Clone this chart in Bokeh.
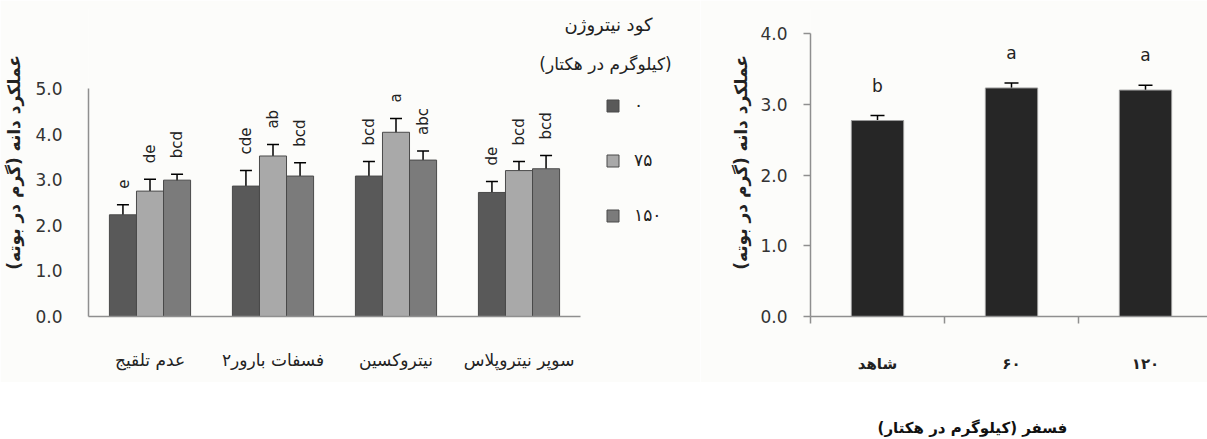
import numpy as np
from bokeh.plotting import figure
from bokeh.models import (ColumnDataSource, Range1d, Whisker, Legend, LegendItem,
                          Label, FixedTicker, TeeHead, NumeralTickFormatter)
from bokeh.layouts import row, column
from bokeh.core.properties import value
from bokeh.embed import file_html
from bokeh.resources import INLINE

# ---------------- data ----------------
inoculants = ["عدم تلقیج", "فسفات بارور۲", "نیتروکسین", "سوپر نیتروپلاس"]
n_levels = ["۰", "۷۵", "۱۵۰"]
n0 = [2.23, 2.86, 3.08, 2.72]
n75 = [2.75, 3.52, 4.04, 3.20]
n150 = [2.99, 3.08, 3.43, 3.24]
err_n0 = [0.22, 0.34, 0.32, 0.24]
err_n75 = [0.26, 0.25, 0.30, 0.20]
err_n150 = [0.13, 0.29, 0.20, 0.29]
let_n0 = ["e", "cde", "bcd", "de"]
let_n75 = ["de", "ab", "a", "bcd"]
let_n150 = ["bcd", "bcd", "abc", "bcd"]

phos_levels = ["شاهد", "۶۰", "۱۲۰"]
phos_yield = [2.77, 3.23, 3.20]
phos_err = [0.07, 0.07, 0.07]
phos_let = ["b", "a", "a"]

y_ticks_left = [0, 1, 2, 3, 4, 5]
y_ticks_right = [0, 1, 2, 3, 4]

legend_title_1 = "کود نیتروژن"
legend_title_2 = "(کیلوگرم در هکتار)"
y_title = "عملکرد دانه (گرم در بوته)"
x_title_right = "فسفر (کیلوگرم در هکتار)"

FONT = "DejaVu Sans"
BG = "#fcfcfa"
AX = "#8f8f8f"
TOP, BOTTOM, H = 8, 66, 382
FRAME_H = H - TOP - BOTTOM

# ---------------- left chart ----------------
cat_left = 123.0
left_px_per_unit = (316 - 88) / 5.0
p1 = figure(width=700, height=H, output_backend="svg", toolbar_location=None,
            x_range=Range1d(0.5, 0.5 + (700 - 88) / cat_left),
            y_range=Range1d(0, FRAME_H / left_px_per_unit),
            min_border_left=88, min_border_right=0, min_border_top=TOP,
            min_border_bottom=BOTTOM)
p1.background_fill_color = BG
p1.border_fill_color = BG
p1.outline_line_color = None
p1.grid.visible = False

bar_w = 0.22
offsets = [-0.22, 0.0, 0.22]
series = [(n0, err_n0, let_n0, "#595959"), (n75, err_n75, let_n75, "#a9a9a9"),
          (n150, err_n150, let_n150, "#7b7b7b")]
legend_items = []
for k, (vals, errs, lets, col) in enumerate(series):
    xs = [i + 1 + offsets[k] for i in range(len(inoculants))]
    src = ColumnDataSource(dict(x=xs, top=vals,
                                upper=[v + e for v, e in zip(vals, errs)],
                                lower=[v - e for v, e in zip(vals, errs)],
                                lab=lets))
    r = p1.vbar(x="x", top="top", width=bar_w, source=src, fill_color=col,
                line_color="#4a4a4a", line_width=1)
    legend_items.append(LegendItem(label=n_levels[k], renderers=[r]))
    w = Whisker(source=src, base="x", upper="upper", lower="lower",
                line_color="black", line_width=1.5,
                upper_head=TeeHead(size=12, line_color="black", line_width=1.5),
                lower_head=TeeHead(size=12, line_color="black", line_width=1.5))
    p1.add_layout(w)
    p1.text(x="x", y="upper", text="lab", source=src, angle=np.pi / 2,
            text_align="left", text_baseline="middle", y_offset=-16,
            text_font=value(FONT), text_font_size="15px", text_color="#222222")

legend = Legend(items=legend_items, location=(517, 91), orientation="vertical",
                glyph_width=15, glyph_height=15, label_height=15, spacing=35,
                padding=0, margin=0, label_standoff=14,
                label_text_font=FONT, label_text_font_size="17px",
                label_text_color="#222222",
                border_line_color=None, background_fill_alpha=0)
p1.add_layout(legend)

p1.add_layout(Label(x=0.5 + (608 - 88) / cat_left, y=(316 - 24) / left_px_per_unit,
                    text=legend_title_1, text_align="center",
                    text_baseline="middle", text_font=FONT, text_font_size="18px",
                    text_color="#222222"))
p1.add_layout(Label(x=0.5 + (605 - 88) / cat_left, y=(316 - 63) / left_px_per_unit,
                    text=legend_title_2, text_align="center",
                    text_baseline="middle", text_font=FONT, text_font_size="17px",
                    text_color="#222222"))

p1.xaxis.bounds = (0.5, 4.5)
p1.xaxis.ticker = FixedTicker(ticks=[1, 2, 3, 4])
p1.xaxis.major_label_overrides = {i + 1: c for i, c in enumerate(inoculants)}
p1.xaxis.major_tick_line_color = None
p1.xaxis.minor_tick_line_color = None
p1.xaxis.axis_line_color = AX
p1.xaxis.axis_line_width = 1.5
p1.xaxis.major_label_standoff = 27
p1.xaxis.major_label_text_font = FONT
p1.xaxis.major_label_text_font_size = "17px"
p1.xaxis.major_label_text_color = "#222222"

p1.yaxis.bounds = (0, 5)
p1.yaxis.ticker = FixedTicker(ticks=y_ticks_left)
p1.yaxis.formatter = NumeralTickFormatter(format="0.0")
p1.yaxis.major_tick_line_color = None
p1.yaxis.minor_tick_line_color = None
p1.yaxis.axis_line_color = AX
p1.yaxis.axis_line_width = 1.5
p1.yaxis.major_label_standoff = 20
p1.yaxis.major_label_text_font = FONT
p1.yaxis.major_label_text_font_size = "17px"
p1.yaxis.major_label_text_color = "#333333"
p1.yaxis.axis_label = y_title
p1.yaxis.axis_label_standoff = 8
p1.yaxis.axis_label_text_font = FONT
p1.yaxis.axis_label_text_font_size = "17px"
p1.yaxis.axis_label_text_font_style = "bold"
p1.yaxis.axis_label_text_color = "#222222"

# ---------------- right chart ----------------
cat_px = 134.0
frame_w = 397
right_px_per_unit = (316 - 33) / 4.0
p2 = figure(width=507, height=H, output_backend="svg", toolbar_location=None,
            x_range=Range1d(0.5, 0.5 + frame_w / cat_px),
            y_range=Range1d(0, FRAME_H / right_px_per_unit),
            min_border_left=110, min_border_right=0, min_border_top=TOP,
            min_border_bottom=BOTTOM)
p2.background_fill_color = BG
p2.border_fill_color = BG
p2.outline_line_color = None
p2.grid.visible = False

xs2 = [i + 1 for i in range(len(phos_levels))]
src2 = ColumnDataSource(dict(x=xs2, top=phos_yield,
                             upper=[v + e for v, e in zip(phos_yield, phos_err)],
                             lower=[v - e for v, e in zip(phos_yield, phos_err)],
                             lab=phos_let))
p2.vbar(x="x", top="top", width=0.39, source=src2, fill_color="#262626",
        line_color="#9a9a9a", line_width=1)
p2.add_layout(Whisker(source=src2, base="x", upper="upper", lower="lower",
                      line_color="black", line_width=1.5,
                      upper_head=TeeHead(size=14, line_color="black", line_width=1.5),
                      lower_head=TeeHead(size=14, line_color="black", line_width=1.5)))
p2.text(x="x", y="upper", text="lab", source=src2, text_align="center",
        text_baseline="bottom", y_offset=-20, text_font=value(FONT),
        text_font_size="17px", text_color="#222222")

p2.xaxis.ticker = FixedTicker(ticks=xs2, minor_ticks=[0.5, 1.5, 2.5])
p2.xaxis.major_label_overrides = {i + 1: c for i, c in enumerate(phos_levels)}
p2.xaxis.major_tick_line_color = None
p2.xaxis.minor_tick_line_color = AX
p2.xaxis.minor_tick_line_width = 1.5
p2.xaxis.minor_tick_out = 7
p2.xaxis.minor_tick_in = 0
p2.xaxis.axis_line_color = AX
p2.xaxis.axis_line_width = 1.5
p2.xaxis.major_label_standoff = 31
p2.xaxis.major_label_text_font = FONT
p2.xaxis.major_label_text_font_size = "15px"
p2.xaxis.major_label_text_font_style = "bold"
p2.xaxis.major_label_text_color = "#222222"

p2.yaxis.bounds = (0, 4)
p2.yaxis.ticker = FixedTicker(ticks=y_ticks_right)
p2.yaxis.formatter = NumeralTickFormatter(format="0.0")
p2.yaxis.major_tick_line_color = AX
p2.yaxis.major_tick_line_width = 1.5
p2.yaxis.major_tick_out = 7
p2.yaxis.major_tick_in = 0
p2.yaxis.minor_tick_line_color = None
p2.yaxis.axis_line_color = AX
p2.yaxis.axis_line_width = 1.5
p2.yaxis.major_label_standoff = 16
p2.yaxis.major_label_text_font = FONT
p2.yaxis.major_label_text_font_size = "17px"
p2.yaxis.major_label_text_color = "#333333"
p2.yaxis.axis_label = y_title
p2.yaxis.axis_label_standoff = 6
p2.yaxis.axis_label_text_font = FONT
p2.yaxis.axis_label_text_font_size = "17px"
p2.yaxis.axis_label_text_font_style = "bold"
p2.yaxis.axis_label_text_color = "#222222"

# ---------------- bottom strip with x title ----------------
p3 = figure(width=1207, height=57, output_backend="svg", toolbar_location=None,
            x_range=Range1d(0, 1207), y_range=Range1d(0, 57),
            min_border=0, min_border_left=0, min_border_right=0,
            min_border_top=0, min_border_bottom=0)
p3.axis.visible = False
p3.grid.visible = False
p3.outline_line_color = None
p3.background_fill_color = "white"
p3.border_fill_color = "white"
p3.add_layout(Label(x=972, y=12, text=x_title_right, text_align="center",
                    text_baseline="middle", text_font=FONT, text_font_size="15px",
                    text_font_style="bold", text_color="#111111"))

layout = column(row(p1, p2, spacing=0), p3, spacing=0)
open("out.html", "w").write(file_html(layout, INLINE))
